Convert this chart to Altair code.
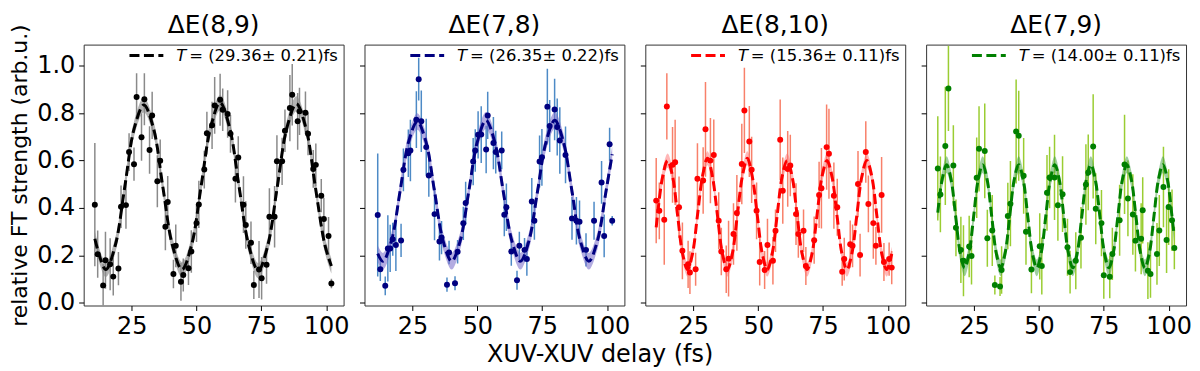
import altair as alt
import pandas as pd
import numpy as np

# ---------------- data ----------------
TITLES = ["ΔE(8,9)", "ΔE(7,8)", "ΔE(8,10)", "ΔE(7,9)"]
LEGEND_TEXT = ["= (29.36± 0.21)fs", "= (26.35± 0.22)fs", "= (15.36± 0.11)fs", "= (14.00± 0.11)fs"]

P1_X = [10.8, 11.9, 14.0, 14.9, 16.7, 17.9, 19.9, 20.9, 22.8, 24.0, 25.9, 26.9, 28.8, 29.9, 31.9, 32.9,
        34.9, 36.0, 38.0, 38.9, 41.1, 42.0, 44.0, 44.9, 46.9, 48.0, 50.0, 50.9, 53.0, 54.0, 56.0, 57.0,
        59.1, 60.1, 62.0, 63.1, 65.0, 66.1, 68.1, 69.0, 71.0, 72.1, 74.1, 75.1, 77.0, 78.1, 80.1, 81.0,
        83.0, 84.1, 86.0, 86.9, 89.0, 89.7, 92.0, 93.0, 95.0, 96.0, 98.1, 99.1, 100.9, 102.0]
P1_Y = [0.414, 0.205, 0.073, 0.179, 0.162, 0.110, 0.144, 0.405, 0.412, 0.636, 0.585, 0.869, 0.699, 0.859, 0.645, 0.791,
        0.513, 0.599, 0.321, 0.425, 0.121, 0.240, 0.088, 0.117, 0.145, 0.216, 0.336, 0.415, 0.562, 0.716, 0.749, 0.833,
        0.857, 0.815, 0.797, 0.713, 0.523, 0.613, 0.414, 0.328, 0.253, 0.075, 0.140, 0.103, 0.160, 0.363, 0.363, 0.597,
        0.597, 0.726, 0.822, 0.878, 0.766, 0.808, 0.802, 0.713, 0.565, 0.582, 0.452, 0.353, 0.282, 0.081]
P1_E = [0.26, 0.10, 0.09, 0.12, 0.11, 0.08, 0.07, 0.09, 0.10, 0.08, 0.07, 0.10, 0.10, 0.11, 0.10, 0.10,
        0.11, 0.09, 0.10, 0.11, 0.06, 0.09, 0.08, 0.07, 0.07, 0.09, 0.08, 0.10, 0.08, 0.09, 0.10, 0.12,
        0.11, 0.09, 0.10, 0.08, 0.10, 0.09, 0.12, 0.10, 0.09, 0.06, 0.12, 0.09, 0.08, 0.12, 0.13, 0.11,
        0.10, 0.09, 0.14, 0.13, 0.12, 0.10, 0.09, 0.09, 0.08, 0.09, 0.07, 0.09, 0.08, 0.02]

P2_X = [11.6, 12.6, 14.5, 15.5, 16.4, 17.4, 18.6, 20.6, 21.5, 23.4, 24.2, 26.5, 27.4, 28.4, 30.3, 31.3,
        33.5, 35.4, 36.2, 38.3, 39.1, 41.4, 42.4, 44.6, 45.5, 48.4, 49.2, 50.3, 51.5, 53.4, 54.0, 56.2,
        57.1, 59.4, 60.4, 61.2, 63.1, 65.3, 66.2, 68.2, 69.1, 71.0, 72.0, 74.0, 74.9, 77.0, 77.9, 79.8,
        80.8, 81.8, 84.0, 86.5, 88.2, 89.4, 91.9, 95.0, 97.9, 98.9, 101.0, 102.0]
P2_Y = [0.370, 0.141, 0.071, 0.229, 0.229, 0.268, 0.244, 0.263, 0.561, 0.631, 0.643, 0.773, 0.944, 0.766, 0.657, 0.537,
        0.374, 0.258, 0.275, 0.076, 0.212, 0.082, 0.215, 0.335, 0.421, 0.596, 0.643, 0.709, 0.710, 0.647, 0.791, 0.674,
        0.636, 0.643, 0.371, 0.403, 0.216, 0.095, 0.240, 0.223, 0.184, 0.427, 0.346, 0.596, 0.614, 0.828, 0.746, 0.816,
        0.742, 0.685, 0.624, 0.356, 0.346, 0.342, 0.223, 0.346, 0.508, 0.282, 0.669, 0.346]
P2_E = [0.26, 0.05, 0.04, 0.14, 0.10, 0.07, 0.11, 0.07, 0.09, 0.10, 0.13, 0.12, 0.09, 0.13, 0.12, 0.09,
        0.11, 0.08, 0.07, 0.03, 0.05, 0.03, 0.05, 0.07, 0.09, 0.10, 0.09, 0.10, 0.12, 0.10, 0.10, 0.11,
        0.09, 0.08, 0.09, 0.10, 0.06, 0.04, 0.06, 0.05, 0.07, 0.10, 0.08, 0.11, 0.12, 0.16, 0.11, 0.13,
        0.12, 0.14, 0.12, 0.09, 0.10, 0.09, 0.07, 0.08, 0.09, 0.09, 0.07, 0.02]

P3_X = [10.7, 11.9, 13.8, 14.8, 17.0, 18.0, 19.5, 20.8, 23.0, 23.7, 25.9, 26.6, 28.8, 29.7, 31.6, 32.9,
        34.8, 35.8, 37.7, 38.6, 40.5, 41.8, 43.7, 44.7, 46.6, 47.5, 49.4, 50.6, 52.5, 53.6, 55.7, 56.7,
        58.5, 59.5, 61.4, 62.4, 64.6, 65.5, 67.5, 68.4, 71.6, 73.5, 74.4, 76.4, 77.3, 79.2, 80.5, 82.4,
        83.2, 85.5, 86.4, 88.5, 89.3, 91.5, 92.5, 94.4, 95.4, 97.6, 98.5, 100.5, 101.5]
P3_Y = [0.431, 0.388, 0.350, 0.829, 0.582, 0.593, 0.403, 0.219, 0.162, 0.127, 0.141, 0.523, 0.516, 0.732, 0.600, 0.624,
        0.346, 0.216, 0.141, 0.186, 0.290, 0.379, 0.586, 0.812, 0.681, 0.561, 0.388, 0.172, 0.138, 0.244, 0.177, 0.304,
        0.688, 0.473, 0.565, 0.579, 0.374, 0.290, 0.304, 0.155, 0.264, 0.455, 0.483, 0.657, 0.629, 0.452, 0.403, 0.131,
        0.184, 0.247, 0.240, 0.501, 0.201, 0.636, 0.417, 0.336, 0.240, 0.455, 0.172, 0.184, 0.148]
P3_E = [0.18, 0.12, 0.19, 0.14, 0.16, 0.18, 0.13, 0.12, 0.10, 0.09, 0.07, 0.15, 0.14, 0.20, 0.18, 0.15,
        0.12, 0.10, 0.10, 0.16, 0.13, 0.16, 0.17, 0.18, 0.15, 0.14, 0.12, 0.10, 0.08, 0.11, 0.10, 0.09,
        0.17, 0.14, 0.16, 0.13, 0.13, 0.10, 0.09, 0.08, 0.10, 0.14, 0.17, 0.18, 0.19, 0.14, 0.12, 0.06,
        0.09, 0.10, 0.09, 0.14, 0.09, 0.13, 0.12, 0.15, 0.08, 0.16, 0.08, 0.07, 0.07]

P4_X = [11.0, 12.0, 13.9, 15.1, 17.0, 18.0, 19.9, 20.9, 23.1, 24.0, 26.0, 26.9, 29.1, 30.1, 32.0, 33.0,
        35.0, 35.6, 38.0, 39.0, 41.2, 42.2, 44.1, 45.0, 47.1, 50.3, 51.1, 53.1, 54.1, 56.0, 57.3, 59.1,
        61.0, 62.0, 64.2, 66.2, 68.1, 69.0, 70.9, 71.9, 74.1, 75.0, 77.3, 78.3, 81.1, 83.0, 84.3, 86.2,
        87.2, 89.4, 90.0, 92.0, 93.0, 95.5, 96.4, 98.0, 99.2, 100.0, 101.3, 102.2]
P4_Y = [0.567, 0.457, 0.662, 0.905, 0.579, 0.316, 0.223, 0.177, 0.237, 0.197, 0.528, 0.650, 0.641, 0.272, 0.305, 0.075,
        0.068, 0.138, 0.366, 0.418, 0.723, 0.705, 0.536, 0.300, 0.140, 0.238, 0.155, 0.464, 0.529, 0.529, 0.411, 0.458,
        0.234, 0.129, 0.177, 0.274, 0.499, 0.550, 0.660, 0.397, 0.336, 0.116, 0.109, 0.206, 0.348, 0.584, 0.440, 0.372,
        0.262, 0.270, 0.390, 0.135, 0.121, 0.206, 0.305, 0.489, 0.265, 0.404, 0.348, 0.231]
P4_E = [0.22, 0.16, 0.25, 0.18, 0.17, 0.12, 0.14, 0.15, 0.13, 0.12, 0.17, 0.18, 0.20, 0.12, 0.15, 0.04,
        0.04, 0.10, 0.14, 0.18, 0.22, 0.19, 0.16, 0.14, 0.10, 0.14, 0.12, 0.16, 0.13, 0.18, 0.15, 0.16,
        0.12, 0.09, 0.12, 0.13, 0.17, 0.16, 0.22, 0.15, 0.14, 0.10, 0.09, 0.11, 0.15, 0.21, 0.16, 0.17,
        0.13, 0.15, 0.14, 0.12, 0.10, 0.13, 0.15, 0.17, 0.14, 0.16, 0.13, 0.09]

# fitted curves at eighth-period steps
F1_X = [10.8, 15.0, 18.7, 22.35, 26.0, 29.7, 33.4, 37.0, 40.7, 44.4, 48.1, 51.75, 55.4, 59.1, 62.8,
        66.4, 70.1, 73.8, 77.5, 81.15, 84.8, 88.5, 92.2, 95.8, 99.5, 102.0]
F1_Y = [0.27, 0.14, 0.243, 0.49, 0.737, 0.835, 0.737, 0.49, 0.243, 0.14, 0.243, 0.49, 0.737, 0.845, 0.737,
        0.49, 0.243, 0.135, 0.243, 0.49, 0.737, 0.84, 0.737, 0.49, 0.243, 0.155]

F2_X = [11.6, 13.6, 16.9, 20.2, 23.5, 26.85, 30.2, 33.5, 36.8, 40.1, 43.4, 46.7, 50.0, 53.35, 56.7,
        60.0, 63.3, 66.6, 69.9, 73.2, 76.5, 79.85, 83.2, 86.5, 89.7, 93.0, 96.3, 99.6, 102.0]
F2_Y = [0.207, 0.175, 0.261, 0.47, 0.679, 0.765, 0.679, 0.47, 0.261, 0.175, 0.261, 0.47, 0.679, 0.77, 0.679,
        0.47, 0.261, 0.175, 0.261, 0.47, 0.679, 0.77, 0.679, 0.47, 0.261, 0.175, 0.261, 0.47, 0.627]

F3_X = [10.7, 13.18, 15.1, 17.02, 18.94, 20.86, 22.78, 24.7, 26.62, 28.54, 30.46, 32.38, 34.3, 36.22,
        38.14, 40.06, 41.98, 43.9, 45.82, 47.74, 49.66, 51.58, 53.5, 55.42, 57.34, 59.26, 61.18, 63.1,
        65.02, 66.94, 68.86, 70.78, 72.7, 74.62, 76.54, 78.46, 80.38, 82.3, 84.22, 86.14, 88.06, 89.98,
        91.9, 93.82, 95.74, 97.66, 99.58, 101.5]
F3_Y = [0.318, 0.533, 0.60, 0.533, 0.37, 0.207, 0.14, 0.207, 0.37, 0.533, 0.61, 0.533, 0.37, 0.207,
        0.14, 0.207, 0.37, 0.533, 0.61, 0.533, 0.37, 0.207, 0.14, 0.207, 0.37, 0.533, 0.60, 0.533,
        0.37, 0.207, 0.14, 0.207, 0.37, 0.533, 0.60, 0.533, 0.37, 0.207, 0.14, 0.207, 0.37, 0.533,
        0.60, 0.533, 0.37, 0.207, 0.14, 0.206]

F4_X = [11.0, 12.66, 14.4, 16.14, 17.88, 19.61, 21.35, 23.09, 24.83, 26.56, 28.3, 30.04, 31.78, 33.51,
        35.25, 36.99, 38.73, 40.46, 42.2, 43.94, 45.68, 47.41, 49.15, 50.89, 52.63, 54.36, 56.1, 57.84,
        59.58, 61.31, 63.05, 64.79, 66.53, 68.26, 70.0, 71.74, 73.48, 75.21, 76.95, 78.69, 80.43, 82.16,
        83.9, 85.64, 87.38, 89.11, 90.85, 92.59, 94.33, 96.06, 97.8, 99.54, 101.28, 102.0]
F4_Y = [0.38, 0.519, 0.583, 0.519, 0.365, 0.211, 0.147, 0.211, 0.365, 0.519, 0.583, 0.519, 0.365, 0.211,
        0.147, 0.211, 0.365, 0.519, 0.583, 0.519, 0.365, 0.211, 0.147, 0.211, 0.365, 0.519, 0.583, 0.519,
        0.365, 0.211, 0.147, 0.211, 0.365, 0.519, 0.583, 0.519, 0.365, 0.211, 0.147, 0.211, 0.365, 0.519,
        0.583, 0.519, 0.365, 0.211, 0.147, 0.211, 0.365, 0.519, 0.583, 0.519, 0.365, 0.295]

BAND_HW = [0.032, 0.035, 0.03, 0.035]

# ---------------- styles ----------------
POINT_COLORS = ["#000000", "#000080", "#ff0000", "#008000"]
BAR_COLORS = ["#8a8a8a", "#4d8ac6", "#f8806a", "#9acd32"]
BAND_COLORS = ["#8c8c8c", "#7468c8", "#ff7070", "#3fa03f"]
BAND_OPACITY = [0.65, 0.55, 0.5, 0.5]

X_DOMAIN = [6.5, 106.7]
Y_DOMAIN = [-0.012, 1.09]
W = 261
H = 262
FONT = "DejaVu Sans"

points = [(P1_X, P1_Y, P1_E), (P2_X, P2_Y, P2_E), (P3_X, P3_Y, P3_E), (P4_X, P4_Y, P4_E)]
fits = [(F1_X, F1_Y), (F2_X, F2_Y), (F3_X, F3_Y), (F4_X, F4_Y)]


def panel(i):
    px, py, pe = points[i]
    fx, fy = fits[i]
    pts = pd.DataFrame({"x": px, "y": py, "e": pe})
    pts["lo"] = pts["y"] - pts["e"]
    pts["hi"] = pts["y"] + pts["e"]
    fit = pd.DataFrame({"x": fx, "y": fy})
    fit["lo"] = fit["y"] - BAND_HW[i]
    fit["hi"] = fit["y"] + BAND_HW[i]

    xs = alt.Scale(domain=X_DOMAIN, nice=False, zero=False)
    ys = alt.Scale(domain=Y_DOMAIN, nice=False, zero=False)
    xax = alt.Axis(values=[25, 50, 75, 100], title=None, labelFlush=False, labelOverlap=False)
    if i == 0:
        yax = alt.Axis(values=[0, 0.2, 0.4, 0.6, 0.8, 1.0], format=".1f",
                       title="relative FT strength (arb.u.)", titlePadding=5, titleFontSize=22,
                       labelFlush=False)
    else:
        yax = alt.Axis(values=[0, 0.2, 0.4, 0.6, 0.8, 1.0], labels=False, title=None)

    bars = alt.Chart(pts).mark_rule(color=BAR_COLORS[i], strokeWidth=1.5, clip=True).encode(
        x=alt.X("x:Q", scale=xs, axis=xax),
        y=alt.Y("lo:Q", scale=ys, axis=yax),
        y2="hi:Q",
    )
    band = alt.Chart(fit).mark_area(color=BAND_COLORS[i], opacity=BAND_OPACITY[i],
                                     interpolate="catmull-rom", clip=True).encode(
        x="x:Q", y="lo:Q", y2="hi:Q"
    )
    dots = alt.Chart(pts).mark_circle(color=POINT_COLORS[i], size=36, opacity=1, clip=True).encode(
        x="x:Q", y="y:Q"
    )
    line = alt.Chart(fit).mark_line(color=POINT_COLORS[i], strokeWidth=3, strokeDash=[10, 4.5],
                                     interpolate="catmull-rom", clip=True).encode(
        x="x:Q", y="y:Q"
    )
    leg = pd.DataFrame({"t": ["T"], "s": [LEGEND_TEXT[i]], "title": [TITLES[i]]})
    leg_line = alt.Chart(leg).mark_rule(color=POINT_COLORS[i], strokeWidth=3, strokeDash=[10, 4.5]).encode(
        x=alt.value(46), x2=alt.value(80), y=alt.value(11)
    )
    leg_t = alt.Chart(leg).mark_text(align="left", baseline="middle", fontSize=16.5, fontStyle="italic",
                                     font=FONT, color="black").encode(
        x=alt.value(93), y=alt.value(11), text="t:N"
    )
    leg_s = alt.Chart(leg).mark_text(align="left", baseline="middle", fontSize=16.5,
                                     font=FONT, color="black").encode(
        x=alt.value(106), y=alt.value(11), text="s:N"
    )
    head = alt.Chart(leg).mark_text(align="center", baseline="alphabetic", fontSize=25,
                                    font=FONT, color="black").encode(
        x=alt.value(W / 2), y=alt.value(-12), text="title:N"
    )
    return alt.layer(bars, band, dots, line, leg_line, leg_t, leg_s, head).properties(
        width=W, height=H,
    )


chart = alt.hconcat(*[panel(i) for i in range(4)], spacing=21, bounds="flush").properties(
    title=alt.TitleParams(text="XUV-XUV delay (fs)", orient="bottom", anchor="middle", fontSize=24,
                          fontWeight="normal", font=FONT, color="black", offset=4),
    padding={"left": 0, "top": 3, "right": 0, "bottom": 0},
).configure(font=FONT).configure_view(
    stroke="#333333", strokeWidth=1
).configure_axis(
    labelFont=FONT, labelFontSize=24, labelColor="black", labelPadding=4,
    titleFont=FONT, titleFontSize=24, titleFontWeight="normal", titleColor="black",
    tickColor="black", tickSize=5, tickWidth=1, domain=False, grid=False,
)

chart.save("out.html", embed_options={"renderer": "svg", "actions": False})
